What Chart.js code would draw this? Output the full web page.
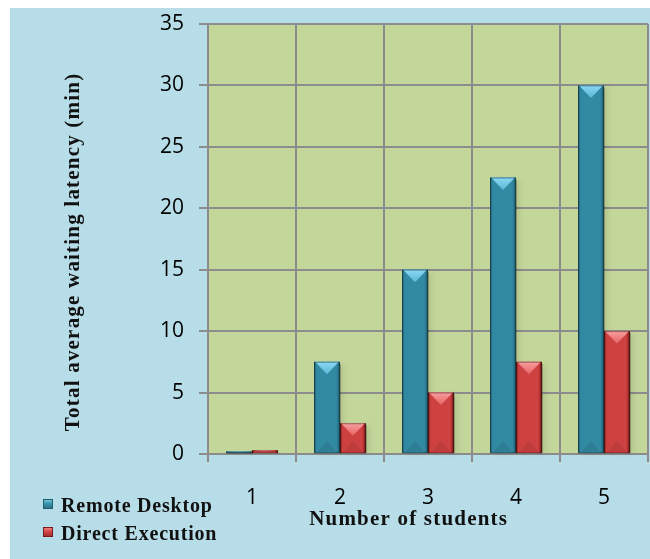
<!DOCTYPE html>
<html><head><meta charset="utf-8">
<script src="https://cdn.jsdelivr.net/npm/chart.js@4"></script>
<style>
html,body{margin:0;padding:0;background:#fff;width:650px;height:559px;overflow:hidden;}
#wrap{position:absolute;left:10px;top:8px;width:640px;height:551px;background:#b7dde8;}
#c{position:absolute;left:0;top:0;}
.sw{position:absolute;left:33px;width:10px;height:10px;}
.lt{position:absolute;left:51px;font:bold 20px "Liberation Serif",serif;line-height:19px;letter-spacing:0.8px;color:#111;white-space:nowrap;}
</style></head>
<body>
<div id="wrap">
<canvas id="c" width="640" height="551"></canvas>
<div class="sw" style="top:491px;background:linear-gradient(180deg,#7fd0ee 0%,#3b95ad 45%,#276f84 100%);box-shadow:inset 0 0 0 1px #1f5e70;"></div>
<div class="lt" style="top:488px;">Remote Desktop</div>
<div class="sw" style="top:519px;background:linear-gradient(180deg,#f59090 0%,#d04848 45%,#a02828 100%);box-shadow:inset 0 0 0 1px #7a1a1a;"></div>
<div class="lt" style="top:516px;">Direct Execution</div>
</div>
<script>
const categories = ['1', '2', '3', '4', '5'];
const remoteDesktop = [0.2, 7.5, 15, 22.5, 30];
const directExecution = [0.3, 2.5, 5, 7.5, 10];
const seriesNames = ['Remote Desktop', 'Direct Execution'];
const yMin = 0, yMax = 35, yStep = 5;
const xTitle = 'Number of students';
const yTitle = 'Total average waiting latency (min)';

const palette = [
  {main:'#3289a2', side:'#1d5a6b', light:'#8ad8f3', lightMid:'#58b8d6'},
  {main:'#cd4141', side:'#6e1515', light:'#f8a0a0', lightMid:'#e86262'}
];

const bgPlugin = {
  id: 'bg',
  beforeDraw(chart) {
    const {ctx, chartArea: a} = chart;
    ctx.save();
    ctx.fillStyle = '#c4d79b';
    ctx.fillRect(a.left, a.top, a.right - a.left, a.bottom - a.top);
    ctx.restore();
    ctx.letterSpacing = '1.2px';
  },
  beforeDatasetsDraw(chart) {
    const ctx = chart.ctx;
    ctx.letterSpacing = '0px';
    ctx.save();
    chart.data.datasets.forEach((ds, di) => {
      chart.getDatasetMeta(di).data.forEach(bar => {
        const p = bar.getProps(['x','y','base','width'], true);
        const l = p.x - p.width/2, h = p.base - p.y;
        ctx.shadowColor = 'rgba(0,0,0,0.35)';
        ctx.shadowBlur = 6;
        ctx.shadowOffsetX = 3;
        ctx.shadowOffsetY = 0;
        ctx.fillStyle = 'rgba(0,0,0,0.25)';
        ctx.fillRect(l + 1, p.y + 2, p.width, h - 2);
      });
    });
    ctx.restore();
  },
  afterDatasetsDraw(chart) {
    const ctx = chart.ctx;
    ctx.save();
    chart.data.datasets.forEach((ds, di) => {
      const c = palette[di];
      chart.getDatasetMeta(di).data.forEach(bar => {
        const p = bar.getProps(['x','y','base','width'], true);
        const w = p.width, l = p.x - w/2, r = p.x + w/2, t = p.y, b = p.base, h = b - t;
        if (h <= 0) return;
        const g = ctx.createLinearGradient(l, 0, r, 0);
        g.addColorStop(0, c.side);
        g.addColorStop(0.1, c.main);
        g.addColorStop(0.5, c.main);
        g.addColorStop(0.86, c.main);
        g.addColorStop(1, c.side);
        ctx.fillStyle = g;
        ctx.fillRect(l, t, w, h);
        const th = Math.min(w * 0.48, h * 0.5);
        const tg = ctx.createLinearGradient(0, t, 0, t + th);
        tg.addColorStop(0, c.light);
        tg.addColorStop(1, c.lightMid);
        ctx.fillStyle = tg;
        ctx.beginPath();
        ctx.moveTo(l + 1, t); ctx.lineTo(r - 1, t); ctx.lineTo(p.x, t + th); ctx.closePath();
        ctx.fill();
        ctx.fillStyle = 'rgba(0,0,0,0.07)';
        ctx.beginPath();
        ctx.moveTo(l + 2, b); ctx.lineTo(r - 2, b); ctx.lineTo(p.x, b - Math.min(w * 0.45, h * 0.5)); ctx.closePath();
        ctx.fill();
        ctx.strokeStyle = 'rgba(0,0,0,0.35)';
        ctx.lineWidth = 1;
        ctx.strokeRect(l + 0.5, t + 0.5, w - 1, h - 0.5);
      });
    });
    ctx.restore();
  }
};

const gridColor = '#8c8c8c';
new Chart(document.getElementById('c'), {
  type: 'bar',
  data: {
    labels: categories,
    datasets: [
      {label: seriesNames[0], data: remoteDesktop, backgroundColor: palette[0].main},
      {label: seriesNames[1], data: directExecution, backgroundColor: palette[1].main}
    ]
  },
  options: {
    responsive: false,
    animation: false,
    events: [],
    layout: {padding: {top: 16, right: 2, left: 0, bottom: 0}},
    datasets: {bar: {categoryPercentage: 0.59, barPercentage: 1.0, borderWidth: 0}},
    plugins: {legend: {display: false}, tooltip: {enabled: false}},
    scales: {
      x: {
        grid: {color: gridColor, lineWidth: 2, tickLength: 8, offset: true},
        border: {color: gridColor, width: 2},
        ticks: {color: '#000', font: {family: '"Open Sans"', size: 21}, padding: 23, z: 1},
        title: {display: true, text: xTitle + '      ', color: '#111',
                font: {family: '"Liberation Serif"', size: 21, weight: 'bold'},
                padding: {top: 0, bottom: 27}},
        afterFit(s) { s.height = 105; }
      },
      y: {
        min: yMin, max: yMax,
        grid: {color: gridColor, lineWidth: 2, tickLength: 9},
        border: {color: gridColor, width: 2},
        ticks: {stepSize: yStep, color: '#000', font: {family: '"Open Sans"', size: 21}, padding: 15, z: 1},
        title: {display: true, text: yTitle + '    ', color: '#111',
                font: {family: '"Liberation Serif"', size: 21, weight: 'bold'},
                padding: {top: 51, bottom: 0}},
        afterFit(s) { s.width = 198; s.paddingTop = 0; s.paddingBottom = 0; }
      }
    }
  },
  plugins: [bgPlugin]
});
</script>
</body></html>
